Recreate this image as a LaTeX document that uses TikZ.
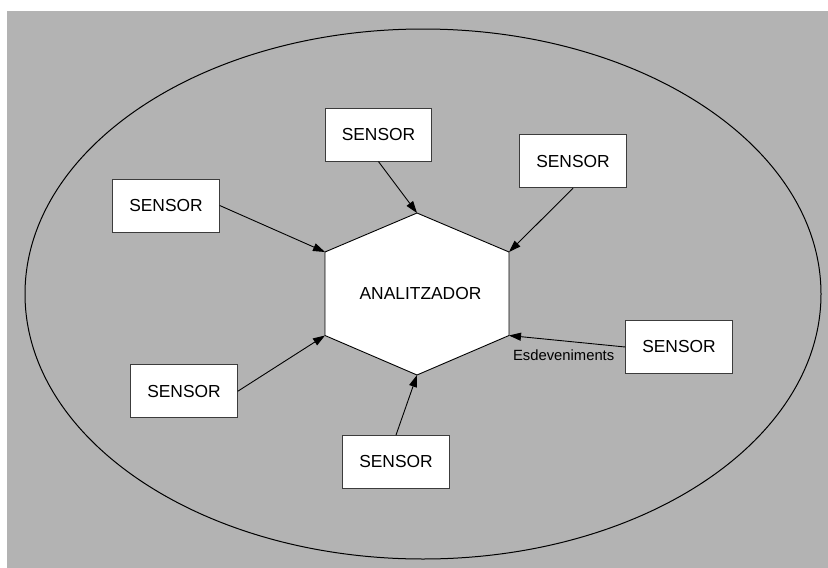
\documentclass[tikz,border=0pt]{standalone}
\usepackage{fontspec}
\setmainfont{Liberation Sans}
\usetikzlibrary{arrows.meta}
\definecolor{bggray}{RGB}{179,179,179}
\definecolor{boxline}{RGB}{60,60,60}
\tikzset{
  sensorbox/.style={draw=boxline, line width=0.9pt, fill=white, minimum width=106.5pt, minimum height=53pt, inner sep=0pt, font=\fontsize{17.4}{20}\selectfont},
  conn/.style={draw=black, line width=0.9pt, -{Triangle[length=12pt,width=8pt]}},
  lbltext/.style={font=\fontsize{14.8}{17}\selectfont, inner sep=0pt}
}
\begin{document}
\begin{tikzpicture}[x=1pt,y=-1pt]
\useasboundingbox (0,0) rectangle (828,568);
\fill[bggray] (7,11) rectangle (828,568);
% outer ellipse
\draw[black, line width=1pt] (423,294) ellipse [x radius=398, y radius=265];
% hexagon vertices
\coordinate (ht) at (417,213);
\coordinate (hul) at (325,252);
\coordinate (hll) at (325,335.5);
\coordinate (hb) at (417,375);
\coordinate (hlr) at (509,335.5);
\coordinate (hur) at (509,252);
\filldraw[fill=white, draw=black, line width=0.9pt] (ht) -- (hul) -- (hll) -- (hb) -- (hlr) -- (hur) -- cycle;
\node[font=\fontsize{17.4}{20}\selectfont, inner sep=0pt] (an) at (420.5,293.5) {ANALITZADOR};
% sensors
\node[sensorbox] (s1) at (166,205.5) {SENSOR};
\node[sensorbox] (s2) at (378.5,134.7) {SENSOR};
\node[sensorbox] (s3) at (573,161.3) {SENSOR};
\node[sensorbox] (s4) at (679,347) {SENSOR};
\node[sensorbox] (s5) at (184,391.3) {SENSOR};
\node[sensorbox] (s6) at (396,462) {SENSOR};
% connectors
\draw[conn] (s1.east) -- (hul);
\draw[conn] (s2.south) -- (ht);
\draw[conn] (s3.south) -- (hur);
\draw[conn] (s4.west) -- node[lbltext, pos=0.53, yshift=-14.6pt] (lbl) {Esdeveniments} (hlr);
\draw[conn] (s5.east) -- (hll);
\draw[conn] (s6.north) -- (hb);
\end{tikzpicture}
\end{document}
